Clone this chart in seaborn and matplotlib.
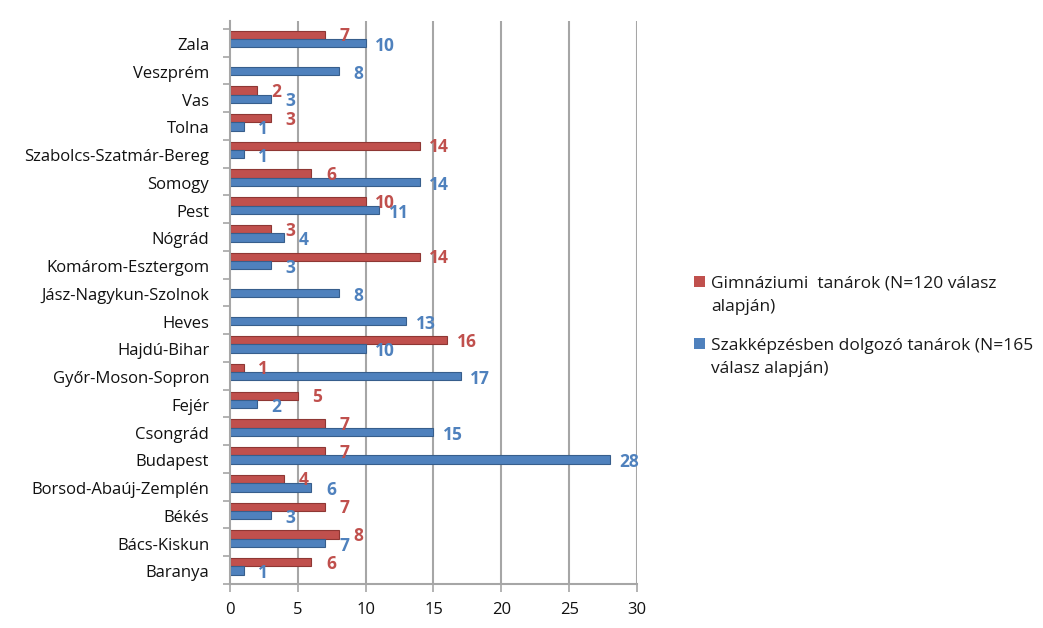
import numpy as np
import pandas as pd
import seaborn as sns
import matplotlib.pyplot as plt
from matplotlib.patches import Rectangle

# County names, top to bottom
counties = ["Zala", "Veszprém", "Vas", "Tolna", "Szabolcs-Szatmár-Bereg", "Somogy",
            "Pest", "Nógrád", "Komárom-Esztergom", "Jász-Nagykun-Szolnok", "Heves",
            "Hajdú-Bihar", "Győr-Moson-Sopron", "Fejér", "Csongrád", "Budapest",
            "Borsod-Abaúj-Zemplén", "Békés", "Bács-Kiskun", "Baranya"]

# Number of respondents per county
gimn = [7, 0, 2, 3, 14, 6, 10, 3, 14, 0, 0, 16, 1, 5, 7, 7, 4, 7, 8, 6]
szak = [10, 8, 3, 1, 1, 14, 11, 4, 3, 8, 13, 10, 17, 2, 15, 28, 6, 3, 7, 1]

series_names = ["Gimnáziumi  tanárok (N=120 válasz alapján)",
                "Szakképzésben dolgozó tanárok (N=165 válasz alapján)"]
legend_lines = [["Gimnáziumi  tanárok (N=120 válasz", "alapján)"],
                ["Szakképzésben dolgozó tanárok (N=165", "válasz alapján)"]]
x_ticks = [0, 5, 10, 15, 20, 25, 30]

RED = "#C0504D"
BLUE = "#4F81BD"
RED_EDGE = "#8E3734"
BLUE_EDGE = "#375E8C"
GRID = "#A6A6A6"
FONT = ["Open Sans", "DejaVu Sans"]

df = pd.DataFrame({
    "county": counties * 2,
    "value": gimn + szak,
    "series": [series_names[0]] * len(counties) + [series_names[1]] * len(counties),
})

sns.set_theme(style="white")
plt.rcParams["font.family"] = FONT

W, H = 1043, 628
fig = plt.figure(figsize=(W / 100, H / 100), dpi=100)
ax = fig.add_axes([0.2205, 0.0701, 0.3902, 0.8965])

sns.barplot(data=df, x="value", y="county", hue="series", order=counties,
            hue_order=series_names, palette=[RED, BLUE], orient="h",
            width=0.6, saturation=1, legend=False, ax=ax)

# darker end caps for a slightly raised look, and value labels
for cont, edge, col, dy, vals in zip(ax.containers, [RED_EDGE, BLUE_EDGE],
                                     [RED, BLUE], [-1, -2], [gimn, szak]):
    for patch, v in zip(cont.patches, vals):
        patch.set_edgecolor(edge)
        patch.set_linewidth(0.8 if v > 0 else 0)
        if v > 0:
            yc = patch.get_y() + patch.get_height() / 2
            ax.annotate(str(v), xy=(v, yc), xytext=(14, dy),
                        textcoords="offset points", ha="center", va="center",
                        color=col, fontsize=12.5, fontweight="bold",
                        annotation_clip=False)

ax.set_xlim(0, 30)
ax.set_ylim(19.6, -0.65)
ax.set_xticks(x_ticks, [str(t) for t in x_ticks])
ax.set_yticks(np.arange(len(counties)) + 0.18, counties)
ax.set_yticks(np.arange(-1, len(counties)) + 0.63, minor=True)
ax.set_xlabel("")
ax.set_ylabel("")

ax.grid(False)
for t in x_ticks[1:]:
    ax.axvline(t, color=GRID, lw=1.5, zorder=0)

for s in ["top", "right"]:
    ax.spines[s].set_visible(False)
for s in ["left", "bottom"]:
    ax.spines[s].set_color(GRID)
    ax.spines[s].set_linewidth(1.5)

ax.tick_params(axis="y", which="major", length=0, pad=15, labelsize=12,
               labelcolor="#111111")
ax.tick_params(axis="y", which="minor", length=5, width=1.2, color=GRID,
               direction="out", left=True)
ax.tick_params(axis="x", length=6, width=1.2, color=GRID, direction="out",
               pad=7, labelsize=12, labelcolor="#111111", bottom=True)

# legend: colour key squares with two-line descriptions
key_tops = [276, 338]
baselines = [[288, 311], [350, 373]]
for col, top, lines, bl in zip([RED, BLUE], key_tops, legend_lines, baselines):
    fig.patches.append(Rectangle((694 / W, 1 - (top + 11) / H), 11 / W, 11 / H,
                                 transform=fig.transFigure, facecolor=col,
                                 edgecolor="none"))
    for line, b in zip(lines, bl):
        fig.text(711 / W, 1 - b / H, line, ha="left", va="baseline",
                 fontsize=12.5, color="#1a1a1a")

fig.savefig("out.png", dpi=100)
